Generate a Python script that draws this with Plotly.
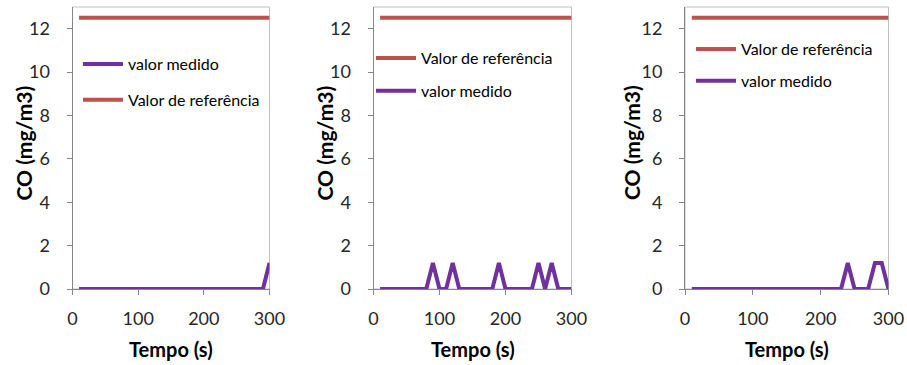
import plotly.graph_objects as go

# Time axis (s) shared by the three measurement runs
tempo = [10, 20, 30, 40, 50, 60, 70, 80, 90, 100,
         110, 120, 130, 140, 150, 160, 170, 180, 190, 200,
         210, 220, 230, 240, 250, 260, 270, 280, 290, 300]

# Reference limit for CO (mg/m3)
referencia = [12.5, 12.5, 12.5, 12.5, 12.5, 12.5, 12.5, 12.5, 12.5, 12.5,
              12.5, 12.5, 12.5, 12.5, 12.5, 12.5, 12.5, 12.5, 12.5, 12.5,
              12.5, 12.5, 12.5, 12.5, 12.5, 12.5, 12.5, 12.5, 12.5, 12.5]

# Measured CO (mg/m3) for each run
medido_1 = [0, 0, 0, 0, 0, 0, 0, 0, 0, 0,
            0, 0, 0, 0, 0, 0, 0, 0, 0, 0,
            0, 0, 0, 0, 0, 0, 0, 0, 0, 1.2]
medido_2 = [0, 0, 0, 0, 0, 0, 0, 0, 1.2, 0,
            0, 1.2, 0, 0, 0, 0, 0, 0, 1.2, 0,
            0, 0, 0, 0, 1.2, 0, 1.2, 0, 0, 0]
medido_3 = [0, 0, 0, 0, 0, 0, 0, 0, 0, 0,
            0, 0, 0, 0, 0, 0, 0, 0, 0, 0,
            0, 0, 0, 1.2, 0, 0, 0, 1.2, 1.2, 0]

x_ticks = [0, 100, 200, 300]
y_ticks = [0, 2, 4, 6, 8, 10, 12]

x_title = "Tempo (s)"
y_title = "CO (mg/m3)"

ROXO = "#7030A0"
VERMELHO = "#C0504D"
FONT = "Lato"
W, H = 907, 365

fig = go.Figure()

panels = [
    # (measured, x-domain px, legend name, legend pos px (x, y), item gap,
    #  y-title offset px, reference first?)
    (medido_1, (72.5, 269.5), "legend", (78, 47), 12, -50, False),
    (medido_2, (373.5, 571.5), "legend2", (371, 41), 9, -50, True),
    (medido_3, (685.0, 888.5), "legend3", (691, 32), 8, -54, True),
]

y_dom = [(H - 289) / H, (H - 7) / H]

for i, (medido, (x0, x1), leg, (lx, ly), gap, ytoff, ref_first) in enumerate(panels, start=1):
    xa = "x" if i == 1 else f"x{i}"
    ya = "y" if i == 1 else f"y{i}"
    tr_ref = go.Scatter(x=tempo, y=referencia, mode="lines", name="Valor de referência",
                        line=dict(color=VERMELHO, width=4), xaxis=xa, yaxis=ya,
                        legend=leg, legendgroup=f"r{i}")
    tr_med = go.Scatter(x=tempo, y=medido, mode="lines", name="valor medido",
                        line=dict(color=ROXO, width=4), xaxis=xa, yaxis=ya,
                        legend=leg, legendgroup=f"m{i}")
    if ref_first:
        fig.add_trace(tr_ref)
        fig.add_trace(tr_med)
    else:
        fig.add_trace(tr_med)
        fig.add_trace(tr_ref)

    axis_common = dict(showline=True, linecolor="#868686", linewidth=1,
                       ticks="outside", ticklen=5, tickcolor="#868686",
                       showgrid=False, zeroline=False, automargin=False,
                       tickfont=dict(family=FONT, size=18, color="#262626"))
    xkey = "xaxis" if i == 1 else f"xaxis{i}"
    ykey = "yaxis" if i == 1 else f"yaxis{i}"
    fig.update_layout(**{
        xkey: dict(domain=[x0 / W, x1 / W], range=[0, 300], tickvals=x_ticks,
                   anchor=ya, ticklabelstandoff=8, **axis_common),
        ykey: dict(domain=y_dom, range=[0, 13], tickvals=y_ticks,
                   anchor=xa, ticklabelstandoff=13, **axis_common),
        leg: dict(x=lx / W, y=1 - ly / H, xanchor="left", yanchor="top",
                  bgcolor="rgba(0,0,0,0)", borderwidth=0, tracegroupgap=gap,
                  font=dict(family=FONT, size=16, color="#000000"),
                  itemwidth=40),
    })

    # axis titles
    fig.add_annotation(text=f"<b>{x_title}</b>", xref=f"{xa} domain", yref=f"{ya} domain",
                       x=0.5, y=0, xanchor="center", yanchor="middle", yshift=-60,
                       showarrow=False, font=dict(family=FONT, size=20, color="#000000"))
    fig.add_annotation(text=f"<b>{y_title}</b>", xref=f"{xa} domain", yref=f"{ya} domain",
                       x=0, y=0.5, xanchor="center", yanchor="middle",
                       xshift=ytoff, yshift=5,
                       textangle=-90, showarrow=False,
                       font=dict(family=FONT, size=21, color="#000000"))

    # light plot-area frame
    fig.add_shape(type="rect", xref=f"{xa} domain", yref=f"{ya} domain",
                  x0=0, x1=1, y0=0, y1=1, line=dict(color="#BFBFBF", width=1),
                  layer="below")

fig.update_layout(width=W, height=H,
                  margin=dict(l=0, r=0, t=0, b=0, pad=0, autoexpand=False),
                  paper_bgcolor="white", plot_bgcolor="white", showlegend=True)

fig.write_html("out.html")
